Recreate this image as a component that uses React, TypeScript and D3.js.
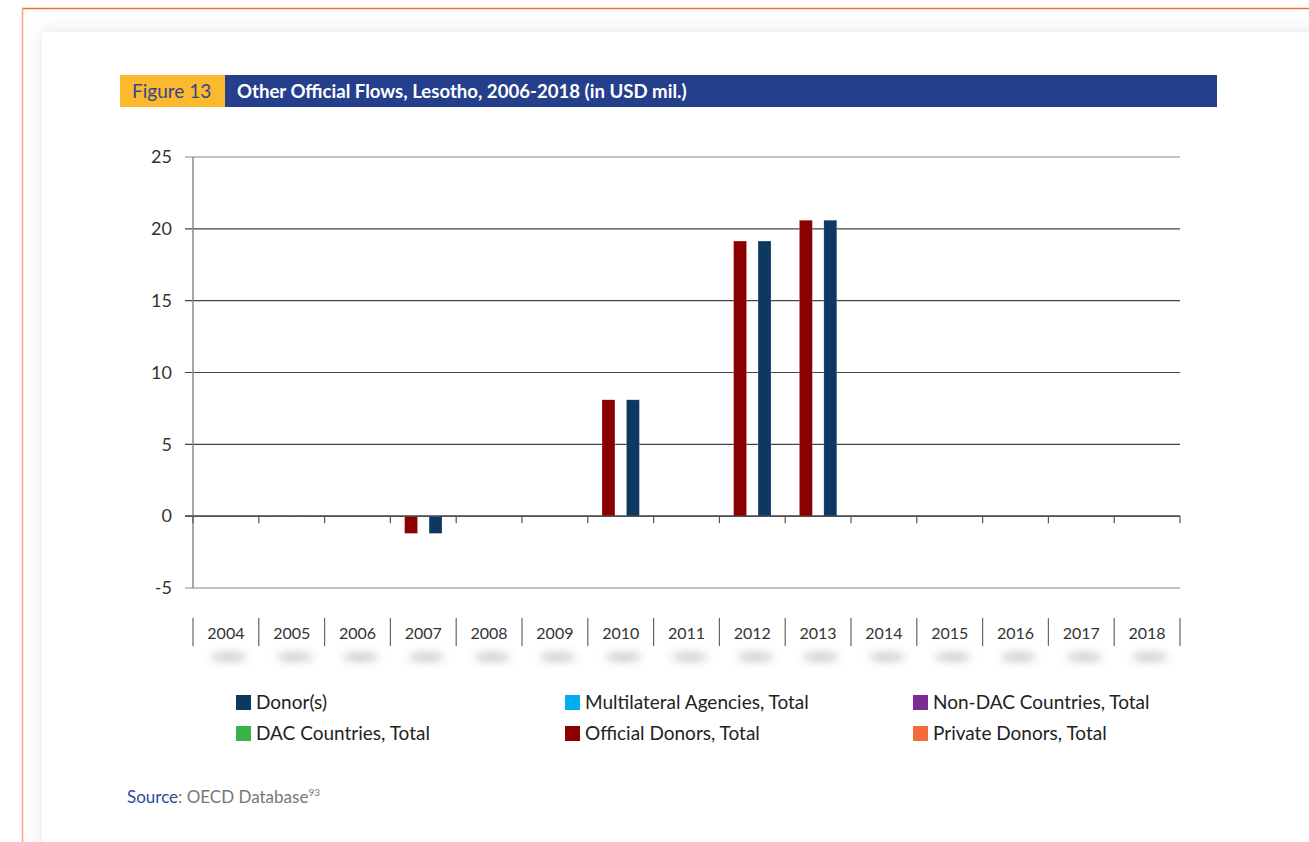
import React, { useEffect } from "react";
import * as d3 from "d3";

const years = ["2004","2005","2006","2007","2008","2009","2010","2011","2012","2013","2014","2015","2016","2017","2018"];
const officialDonors = [0, 0.03, 0, -1.2, 0, 0, 8.1, 0, 19.15, 20.6, 0, 0, 0, 0, 0];
const donors = [0, 0.03, 0, -1.2, 0, 0, 8.1, 0, 19.15, 20.6, 0, 0, 0, 0, 0];
const multilateral = [0, 0, 0, 0, 0, 0, 0, 0, 0, 0, 0, 0, 0, 0, 0];
const nonDac = [0, 0, 0, 0, 0, 0, 0, 0, 0, 0, 0, 0, 0, 0, 0];
const dac = [0, 0, 0, 0, 0, 0, 0, 0, 0, 0, 0, 0, 0, 0, 0];
const privateDonors = [0, 0, 0, 0, 0, 0, 0, 0, 0, 0, 0, 0, 0, 0, 0];
const yTicks = [-5, 0, 5, 10, 15, 20, 25];

const barSeries = [
  { name: "Official Donors, Total", color: "#8B0000", values: officialDonors },
  { name: "Donor(s)", color: "#0D3862", values: donors },
];

const legendItems = [
  { name: "Donor(s)", color: "#0D3862", values: donors },
  { name: "Multilateral Agencies, Total", color: "#00AEEF", values: multilateral },
  { name: "Non-DAC Countries, Total", color: "#7B2C91", values: nonDac },
  { name: "DAC Countries, Total", color: "#3BB14A", values: dac },
  { name: "Official Donors, Total", color: "#8B0000", values: officialDonors },
  { name: "Private Donors, Total", color: "#F26B3A", values: privateDonors },
];

const FONT = "Lato, 'Open Sans', sans-serif";

export default function App() {
  useEffect(() => {
    document.body.style.margin = "0";
  }, []);

  const x = d3.scaleBand<string>().domain(years).range([193, 1180]).padding(0);
  const y = d3.scaleLinear().domain([-5, 25]).range([588, 157]);
  const inner = d3
    .scaleBand<string>()
    .domain(barSeries.map((s) => s.name))
    .range([0, x.bandwidth()])
    .paddingInner(0.47)
    .paddingOuter(0.58);

  const legendCols = [236, 565, 913];
  const legendRows = [702.5, 733.5];

  return (
    <svg width={1309} height={842} style={{ display: "block", background: "#fff" }}>
      <defs>
        <filter id="card" x="-10%" y="-10%" width="120%" height="120%">
          <feDropShadow dx="0" dy="0" stdDeviation="9" floodColor="#000" floodOpacity="0.11" />
        </filter>
        <filter id="blur" x="-80%" y="-150%" width="260%" height="400%">
          <feGaussianBlur stdDeviation="4.5" />
        </filter>
      </defs>
      {/* page frame */}
      <rect x={42} y={32} width={1400} height={1000} fill="#fff" filter="url(#card)" />
      <line x1={22} y1={8.5} x2={1309} y2={8.5} stroke="#F26B3A" strokeWidth={1.5} />
      <line x1={22.5} y1={8} x2={22.5} y2={842} stroke="#F5A582" strokeWidth={1.5} />

      {/* header */}
      <rect x={120} y={75} width={105} height={32} fill="#FBBA2E" />
      <rect x={225} y={75} width={992} height={32} fill="#253F8C" />
      <text x={132} y={98} fontFamily={FONT} fontSize={19} fill="#34478C">Figure 13</text>
      <text x={237} y={98} fontFamily={FONT} fontSize={18.6} fontWeight="bold" fill="#fff">
        Other Official Flows, Lesotho, 2006-2018 (in USD mil.)
      </text>

      {/* gridlines */}
      {yTicks.map((t) => (
        <g key={t}>
          <line
            x1={185}
            x2={1180}
            y1={y(t)}
            y2={y(t)}
            stroke={t === 25 || t === -5 ? "#8a8a8a" : "#444"}
            strokeWidth={1.2}
          />
          <text
            x={172}
            y={y(t)}
            dy="0.35em"
            textAnchor="end"
            fontFamily={FONT}
            fontSize={18}
            fill="#333"
          >
            {t}
          </text>
        </g>
      ))}
      <line x1={193} x2={193} y1={157} y2={588} stroke="#8a8a8a" strokeWidth={1.5} />

      {/* bars */}
      {barSeries.map((s) =>
        s.values.map((v, i) => {
          if (v === 0) return null;
          const bx = (x(years[i]) as number) + (inner(s.name) as number);
          const y0 = y(Math.max(0, v));
          const y1 = y(Math.min(0, v));
          return (
            <rect
              key={s.name + i}
              x={bx}
              y={y0}
              width={inner.bandwidth()}
              height={Math.max(0.6, y1 - y0)}
              fill={s.color}
              stroke="rgba(255,255,255,0.35)"
              strokeWidth={0.6}
            />
          );
        })
      )}

      {/* zero line & category ticks */}
      <line x1={185} x2={1180} y1={y(0)} y2={y(0)} stroke="#444" strokeWidth={1.2} />
      {years.map((yr) => (
        <line
          key={"t" + yr}
          x1={x(yr) as number}
          x2={x(yr) as number}
          y1={y(0)}
          y2={y(0) + 7}
          stroke="#555"
          strokeWidth={1.2}
        />
      ))}
      <line x1={1180} x2={1180} y1={y(0)} y2={y(0) + 7} stroke="#555" strokeWidth={1.2} />

      {/* category labels */}
      {years.map((yr) => {
        const cx = (x(yr) as number) + x.bandwidth() / 2;
        return (
          <g key={"l" + yr}>
            <ellipse cx={cx + 3} cy={657} rx={18} ry={5} fill="#d0d0d0" filter="url(#blur)" />
            <line x1={x(yr) as number} x2={x(yr) as number} y1={618} y2={646} stroke="#666" strokeWidth={1.2} />
            <text x={cx} y={633} dy="0.35em" textAnchor="middle" fontFamily={FONT} fontSize={16} fill="#333">
              {yr}
            </text>
          </g>
        );
      })}
      <line x1={1180} x2={1180} y1={618} y2={646} stroke="#666" strokeWidth={1.2} />

      {/* legend */}
      {legendItems.map((it, i) => {
        const lx = legendCols[i % 3];
        const ly = legendRows[Math.floor(i / 3)];
        return (
          <g key={it.name}>
            <rect x={lx} y={ly - 7.5} width={15} height={15} fill={it.color} />
            <text x={lx + 20} y={ly} dy="0.35em" fontFamily={FONT} fontSize={19} fill="#222">
              {it.name}
            </text>
          </g>
        );
      })}

      {/* source */}
      <text x={127} y={803} fontFamily={FONT} fontSize={17}>
        <tspan fill="#2E4A9A">Source</tspan>
        <tspan fill="#777">: OECD Database</tspan>
        <tspan fill="#777" fontSize={10} dy={-7}>93</tspan>
      </text>
    </svg>
  );
}
